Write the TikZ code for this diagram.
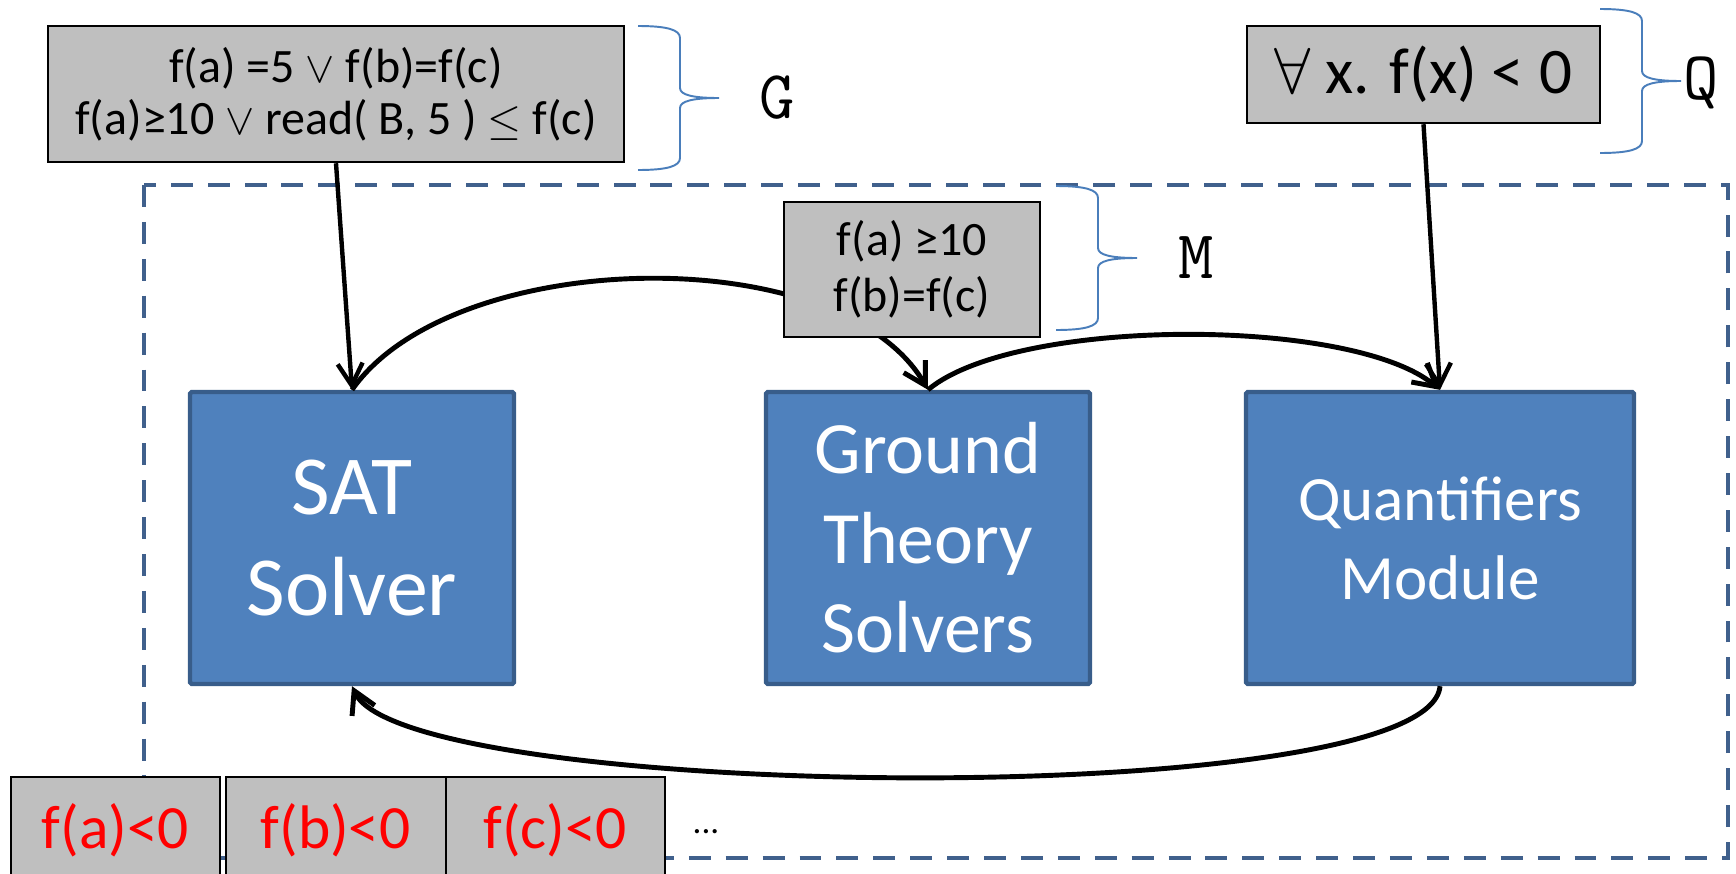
\documentclass[tikz,border=0pt]{standalone}
\usepackage{fontspec}
\setmainfont{Carlito}
\usetikzlibrary{arrows.meta,positioning}

\definecolor{boxblue}{RGB}{79,129,189}
\definecolor{boxedge}{RGB}{56,93,138}
\definecolor{dashblue}{RGB}{64,96,140}
\definecolor{braceblue}{RGB}{74,126,187}
\definecolor{formgray}{RGB}{191,191,191}

\begin{document}
\begin{tikzpicture}[
  solver/.style={draw=boxedge, fill=boxblue, line width=2.5pt, rounded corners=1pt,
                 text=white, align=center, inner sep=0pt,
                 minimum width=6.48cm, minimum height=5.84cm},
  form/.style={draw, fill=formgray, line width=1.4pt, align=center, inner sep=0pt},
  neg/.style={draw, fill=formgray, line width=1pt, text=red, inner sep=0pt,
              minimum height=2.12cm, font=\fontsize{35}{42}\selectfont},
  setname/.style={font=\ttfamily\fontsize{39}{44}\selectfont},
  flow/.style={-{Straight Barb[length=0.44cm,width=0.5cm]}, line width=2.8pt},
  curly/.pic={
    \draw[braceblue, line width=1.1pt]
      (0,0) .. controls (0.6,0) and (0.84,-0.08) .. (0.84,-0.24)
      -- (0.84,-1.24) .. controls (0.84,-1.38) and (1.1,-1.44) .. (1.62,-1.44)
      .. controls (1.1,-1.44) and (0.84,-1.5) .. (0.84,-1.64)
      -- (0.84,-2.64) .. controls (0.84,-2.8) and (0.6,-2.88) .. (0,-2.88);
  }
]
  \useasboundingbox (0,0) rectangle (34.72,-17.46);

  % solver loop frame
  \draw[dashblue, line width=2.8pt, dash pattern=on 12.5pt off 8.5pt]
    (2.88,-3.70) rectangle (34.56,-17.16);

  \node[solver, font=\fontsize{47.8}{57.5}\selectfont] (sat) at (7.04,-10.76) {SAT\\Solver};
  \node[solver, font=\fontsize{42}{51}\selectfont] (gnd) at (18.56,-10.76) {Ground\\Theory\\Solvers};
  \node[solver, minimum width=7.76cm, font=\fontsize{35.9}{45}\selectfont] (qm) at (28.8,-10.76) {Quantifiers\\Module};

  % model passed around
  \draw[flow] (sat.north) to[out=55, in=120, looseness=0.78] (gnd.north);
  \draw[flow] (gnd.north) to[out=40, in=140, looseness=0.57] (qm.north);
  \draw[flow] (qm.south) to[out=-95, in=-65, looseness=0.3] (sat.south);

  \node[form, minimum width=11.52cm, minimum height=2.72cm, font=\fontsize{27.3}{29.6}\selectfont] (gf) at (6.72,-1.88)
       {f(a) =5 $\vee$ f(b)=f(c)\\f(a)≥10 $\vee$ read( B, 5 ) $\leq$ f(c)};
  \node[form, minimum width=7.06cm, minimum height=1.94cm, font=\fontsize{37}{44}\selectfont] (qf) at (28.47,-1.49)
       {\scalebox{1.49}{$\forall$} x. f(x) < 0};
  \node[form, minimum width=5.12cm, minimum height=2.70cm, font=\fontsize{27.3}{31.9}\selectfont] (mf) at (18.24,-5.39)
       {f(a) ≥10\\f(b)=f(c)};

  \draw[flow, line width=2.5pt] (gf.south) -- (sat.north);
  \draw[flow, line width=2.5pt] (qf.south) -- (qm.north);

  % braces and their names
  \pic (gbr) at (12.76,-0.52) {curly};
  \pic (mbr) at (21.12,-3.72) {curly};
  \pic (qbr) at (32.0,-0.18) {curly};
  \node[setname] (gname) at (15.54,-1.96) {G};
  \node[setname] (mname) at (23.92,-5.16) {M};
  \node[setname] (qname) at (34.02,-1.66) {Q};

  % instances
  \node[neg, minimum width=4.18cm] (fa) at (2.31,-16.6) {f(a)<0};
  \node[neg, minimum width=4.40cm, right=0.08cm of fa] (fb) {f(b)<0};
  \node[neg, minimum width=4.38cm, right=-1pt of fb] (fc) {f(c)<0};
  \node[anchor=base, font=\fontsize{20}{24}\selectfont] (more) at (14.12,-16.66) {...};
\end{tikzpicture}
\end{document}
